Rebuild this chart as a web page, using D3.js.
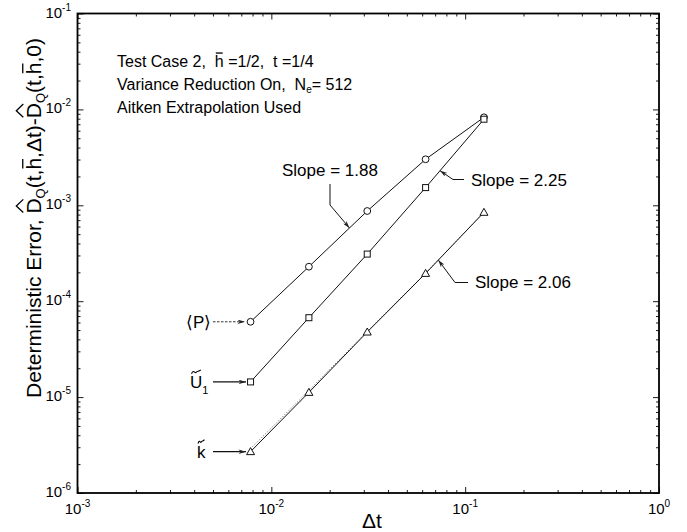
<!DOCTYPE html>
<html>
<head>
<meta charset="utf-8">
<script src="https://cdn.jsdelivr.net/npm/d3@7"></script>
<style>
  body { margin: 0; background: #fff; }
  svg { font-family: "Liberation Sans", Arial, sans-serif; }
  text { white-space: pre; }
</style>
</head>
<body>
<script>
// step sizes (dt = 1/128 ... 1/8)
var dt = [1/128, 1/64, 1/32, 1/16, 1/8];
// deterministic error for each quantity
var errP = [6.1e-5, 2.29e-4, 8.72e-4, 3.02e-3, 8.27e-3];
var errU = [1.44e-5, 6.73e-5, 3.10e-4, 1.53e-3, 7.9e-3];
var errK = [2.70e-6, 1.12e-5, 4.77e-5, 1.95e-4, 8.45e-4];
var errKDotted = [2.9e-6, 1.17e-5, 4.85e-5, 1.96e-4, 8.45e-4];
var xDecades = [1e-3, 1e-2, 1e-1, 1];
var yDecades = [1e-6, 1e-5, 1e-4, 1e-3, 1e-2, 1e-1];
var xExp = ["-3", "-2", "-1", "0"];
var yExp = ["-6", "-5", "-4", "-3", "-2", "-1"];
var slopes = ["1.88", "2.25", "2.06"];

var width = 687, height = 532;
var svg = d3.select("body").append("svg")
    .attr("width", width)
    .attr("height", height);

var x = d3.scaleLog().domain([1e-3, 1]).range([77.5, 659]);
var y = d3.scaleLog().domain([1e-6, 1e-1]).range([493, 13.5]);

// minor tick values 2..9 in each decade
function minors(decs) {
    var out = [];
    for (var i = 0; i < decs.length - 1; i++)
        for (var k = 2; k <= 9; k++) out.push(decs[i] * k);
    return out;
}

// axes on all four sides, ticks pointing inward
function addAxis(axisFn, scale, decs, tx, ty) {
    var g = svg.append("g").attr("transform", "translate(" + tx + "," + ty + ")");
    g.append("g").call(axisFn(scale).tickValues(decs).tickSize(-6).tickFormat(""));
    g.append("g").call(axisFn(scale).tickValues(minors(decs)).tickSize(-3).tickFormat(""));
    g.selectAll(".domain").attr("d", null);
    g.selectAll(".tick line").attr("stroke-width", 0.9);
    return g;
}
addAxis(d3.axisBottom, x, xDecades, 0, 493);
addAxis(d3.axisTop, x, xDecades, 0, 13.5);
addAxis(d3.axisLeft, y, yDecades, 77.5, 0);
addAxis(d3.axisRight, y, yDecades, 659, 0);

svg.append("rect")
    .attr("x", 77.5).attr("y", 13.5)
    .attr("width", 659 - 77.5).attr("height", 493 - 13.5)
    .attr("fill", "none").attr("stroke", "#000").attr("stroke-width", 1.8);

// tick labels
xDecades.forEach(function (v, i) {
    var t = svg.append("text").attr("x", x(v)).attr("y", 514)
        .attr("text-anchor", "middle").attr("font-size", 15);
    t.append("tspan").text("10");
    t.append("tspan").attr("dy", -7).attr("font-size", 10).text(xExp[i]);
});
yDecades.forEach(function (v, i) {
    var t = svg.append("text").attr("x", 71).attr("y", y(v) + 4)
        .attr("text-anchor", "end").attr("font-size", 15);
    t.append("tspan").text("10");
    t.append("tspan").attr("dy", -7).attr("font-size", 10).text(yExp[i]);
});

// axis titles
svg.append("text").attr("x", 372).attr("y", 528)
    .attr("text-anchor", "middle").attr("font-size", 21).text("\u0394t");

var yt = svg.append("g").attr("transform", "translate(41,218) rotate(-90)");
var ytxt = yt.append("text").attr("text-anchor", "middle").attr("font-size", 21);
ytxt.append("tspan").text("Deterministic Error, D");
ytxt.append("tspan").attr("font-size", 13).attr("dy", 4).text("Q");
ytxt.append("tspan").attr("dy", -4).text("(t,h,\u0394t)-D");
ytxt.append("tspan").attr("font-size", 13).attr("dy", 4).text("Q");
ytxt.append("tspan").attr("dy", -4).text("(t,h,0)");

// hats over D, bars over h and tildes, placed from the glyph extents
function decorate(textSel, parent, marks) {
    var node = textSel.node();
    var s = node.textContent;
    marks.forEach(function (m) {
        var idx = -1;
        for (var i = m.from; i < s.length; i++) {
            if (s[i] === m.ch) { idx = i; break; }
        }
        if (idx < 0) return;
        var b = node.getExtentOfChar(idx);
        if (m.type === "hat") {
            var top = b.y + b.height * 0.1;
            parent.append("path")
                .attr("d", "M" + (b.x + 1) + "," + (top - 1) + "L" + (b.x + b.width / 2) + "," + (top - 8) +
                    "L" + (b.x + b.width - 1) + "," + (top - 1))
                .attr("fill", "none").attr("stroke", "#000").attr("stroke-width", 1.3);
        } else if (m.type === "bar") {
            var top2 = b.y + b.height * 0.12;
            parent.append("line")
                .attr("x1", b.x + 1).attr("x2", b.x + b.width - 1)
                .attr("y1", top2 - 2).attr("y2", top2 - 2)
                .attr("stroke", "#000").attr("stroke-width", 1.3);
        } else if (m.type === "tilde") {
            var top3 = b.y + b.height * 0.1;
            var x0 = b.x + b.width * 0.12, w = b.width * 0.38;
            parent.append("path")
                .attr("d", "M" + x0 + "," + (top3 - 1) +
                    "C" + (x0 + w * 0.5) + "," + (top3 - 6) + " " + (x0 + w * 0.7) + "," + (top3 - 1) + " " + (x0 + w) + "," + (top3 - 2.5) +
                    "S" + (x0 + 2 * w - w * 0.5) + "," + (top3 - 3) + " " + (x0 + 2 * w) + "," + (top3 - 5))
                .attr("fill", "none").attr("stroke", "#000").attr("stroke-width", 1.1);
        }
    });
}
var ys = ytxt.node().textContent;
decorate(ytxt, yt, [
    { ch: "D", from: 20, type: "hat" },
    { ch: "D", from: ys.indexOf("-D") + 1, type: "hat" },
    { ch: "h", from: ys.indexOf("(t,h") + 3, type: "bar" },
    { ch: "h", from: ys.lastIndexOf("(t,h") + 3, type: "bar" }
]);

// info text block
var l1 = svg.append("text").attr("x", 117).attr("y", 67).attr("font-size", 16)
    .text("Test Case 2,  h =1/2,  t =1/4");
decorate(l1, svg, [{ ch: "h", from: 0, type: "bar" }]);
var l2 = svg.append("text").attr("x", 117).attr("y", 90).attr("font-size", 16);
l2.append("tspan").text("Variance Reduction On,  N");
l2.append("tspan").attr("font-size", 10).attr("dy", 3).text("e");
l2.append("tspan").attr("dy", -3).text("= 512");
svg.append("text").attr("x", 117).attr("y", 113).attr("font-size", 16)
    .text("Aitken Extrapolation Used");

// data lines
var line = d3.line().x(function (d) { return x(d[0]); }).y(function (d) { return y(d[1]); });
function pairs(v) { return dt.map(function (d, i) { return [d, v[i]]; }); }

svg.append("path").datum(pairs(errKDotted)).attr("d", line)
    .attr("fill", "none").attr("stroke", "#555").attr("stroke-width", 1)
    .attr("stroke-dasharray", "1,2");
[errP, errU, errK].forEach(function (v) {
    svg.append("path").datum(pairs(v)).attr("d", line)
        .attr("fill", "none").attr("stroke", "#111").attr("stroke-width", 1);
});

// markers
svg.selectAll(".mP").data(pairs(errP)).enter().append("circle")
    .attr("cx", function (d) { return x(d[0]); }).attr("cy", function (d) { return y(d[1]); })
    .attr("r", 3.4).attr("fill", "#fff").attr("stroke", "#111").attr("stroke-width", 1);
svg.selectAll(".mU").data(pairs(errU)).enter().append("rect")
    .attr("x", function (d) { return x(d[0]) - 3; }).attr("y", function (d) { return y(d[1]) - 3; })
    .attr("width", 6).attr("height", 6).attr("fill", "#fff").attr("stroke", "#111").attr("stroke-width", 1);
svg.selectAll(".mK").data(pairs(errK)).enter().append("path")
    .attr("transform", function (d) { return "translate(" + x(d[0]) + "," + y(d[1]) + ")"; })
    .attr("d", "M0,-4L4,3L-4,3Z").attr("fill", "#fff").attr("stroke", "#111").attr("stroke-width", 1);

// slim arrowhead
svg.append("defs").append("marker")
    .attr("id", "arr").attr("viewBox", "0 0 10 6").attr("refX", 10).attr("refY", 3)
    .attr("markerWidth", 9).attr("markerHeight", 4.5).attr("markerUnits", "userSpaceOnUse")
    .attr("orient", "auto")
    .append("path").attr("d", "M0,0L10,3L0,6L3,3Z").attr("fill", "#222");

// point on a series at a given dt (log-log interpolation)
function onSeries(v, t) {
    var lt = Math.log10(t);
    for (var i = 0; i < dt.length - 1; i++) {
        var a = Math.log10(dt[i]), b = Math.log10(dt[i + 1]);
        if (lt >= a && lt <= b) {
            var f = (lt - a) / (b - a);
            var lv = Math.log10(v[i]) + f * (Math.log10(v[i + 1]) - Math.log10(v[i]));
            return [x(t), y(Math.pow(10, lv))];
        }
    }
}

// slope callouts
var c1 = onSeries(errP, 0.0253);
svg.append("path").attr("d", "M330,184L330,205L" + c1[0] + "," + c1[1])
    .attr("fill", "none").attr("stroke", "#111").attr("stroke-width", 1).attr("marker-end", "url(#arr)");
svg.append("text").attr("x", 282).attr("y", 176).attr("font-size", 17).text("Slope = " + slopes[0]);

var c2 = onSeries(errU, 0.0742);
svg.append("path").attr("d", "M464,179.5L453,179.5L" + c2[0] + "," + c2[1])
    .attr("fill", "none").attr("stroke", "#111").attr("stroke-width", 1).attr("marker-end", "url(#arr)");
svg.append("text").attr("x", 471).attr("y", 186).attr("font-size", 17).text("Slope = " + slopes[1]);

var c3 = onSeries(errK, 0.0727);
svg.append("path").attr("d", "M468,282.5L455,282.5L" + c3[0] + "," + c3[1])
    .attr("fill", "none").attr("stroke", "#111").attr("stroke-width", 1).attr("marker-end", "url(#arr)");
svg.append("text").attr("x", 475).attr("y", 288).attr("font-size", 17).text("Slope = " + slopes[2]);

// series labels on the left with arrows
var pY = y(errP[0]), uY = y(errU[0]), kY = y(errK[0]);
svg.append("line").attr("x1", 213).attr("x2", 245).attr("y1", pY).attr("y2", pY)
    .attr("stroke", "#333").attr("stroke-width", 1).attr("stroke-dasharray", "2.5,1.5").attr("marker-end", "url(#arr)");
svg.append("line").attr("x1", 213).attr("x2", 246).attr("y1", uY).attr("y2", uY)
    .attr("stroke", "#111").attr("stroke-width", 1.2).attr("marker-end", "url(#arr)");
svg.append("line").attr("x1", 213).attr("x2", 246).attr("y1", kY).attr("y2", kY)
    .attr("stroke", "#111").attr("stroke-width", 1.2).attr("marker-end", "url(#arr)");

svg.append("text").attr("x", 186).attr("y", pY + 6).attr("font-size", 17).text("\u27E8P\u27E9");
var uL = svg.append("text").attr("x", 190).attr("y", uY + 6).attr("font-size", 17);
uL.append("tspan").text("U");
uL.append("tspan").attr("font-size", 11).attr("dy", 6).text("1");
decorate(uL, svg, [{ ch: "U", from: 0, type: "tilde" }]);
var kL = svg.append("text").attr("x", 197).attr("y", kY + 6).attr("font-size", 17).text("k");
decorate(kL, svg, [{ ch: "k", from: 0, type: "tilde" }]);
</script>
</body>
</html>
